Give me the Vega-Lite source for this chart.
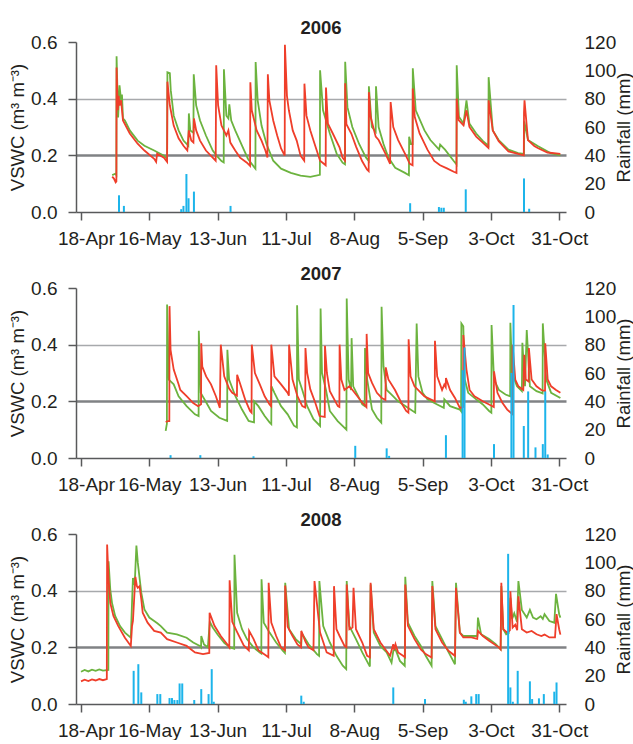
{
"$schema": "https://vega.github.io/schema/vega-lite/v6.json",
"padding": {"left": 8, "top": 18, "right": 0, "bottom": 0},
"spacing": 16,
"config": {
 "font": "Liberation Sans",
 "view": {"stroke": null},
 "axis": {"labelFontSize": 19, "labelColor": "#231f20", "titleFontSize": 18.5, "titleFontWeight": "normal", "titleColor": "#231f20", "domainColor": "#58595b", "domainWidth": 1.5, "tickColor": "#58595b", "tickWidth": 1.5, "grid": false},
 "title": {"fontSize": 18.5, "fontWeight": "bold", "color": "#231f20", "offset": -4, "anchor": "middle"}
},
"datasets": {
"g06": [
{"d":"2006-04-30T19:00","v":0.13},{"d":"2006-05-02T00:00","v":0.135},{"d":"2006-05-02T12:00","v":0.13},{"d":"2006-05-02T14:00","v":0.55},{"d":"2006-05-03T05:00","v":0.334},{"d":"2006-05-03T19:00","v":0.447},{"d":"2006-05-04T10:00","v":0.394},{"d":"2006-05-04T19:00","v":0.415},{"d":"2006-05-05T05:00","v":0.33},{"d":"2006-05-06T00:00","v":0.323},{"d":"2006-05-08T00:00","v":0.288},{"d":"2006-05-11T05:00","v":0.252},{"d":"2006-05-14T00:00","v":0.234},{"d":"2006-05-18T00:00","v":0.217},{"d":"2006-05-22T00:00","v":0.199},{"d":"2006-05-23T07:00","v":0.188},{"d":"2006-05-23T10:00","v":0.493},{"d":"2006-05-24T10:00","v":0.49},{"d":"2006-05-24T19:00","v":0.43},{"d":"2006-05-26T00:00","v":0.34},{"d":"2006-05-28T00:00","v":0.288},{"d":"2006-05-30T00:00","v":0.252},{"d":"2006-06-01T00:00","v":0.234},{"d":"2006-06-01T05:00","v":0.348},{"d":"2006-06-01T19:00","v":0.288},{"d":"2006-06-03T02:00","v":0.28},{"d":"2006-06-03T05:00","v":0.486},{"d":"2006-06-04T05:00","v":0.376},{"d":"2006-06-05T19:00","v":0.323},{"d":"2006-06-08T05:00","v":0.27},{"d":"2006-06-11T00:00","v":0.217},{"d":"2006-06-12T14:00","v":0.199},{"d":"2006-06-14T14:00","v":0.18},{"d":"2006-06-15T12:00","v":0.175},{"d":"2006-06-15T14:00","v":0.504},{"d":"2006-06-16T14:00","v":0.34},{"d":"2006-06-17T10:00","v":0.33},{"d":"2006-06-17T19:00","v":0.38},{"d":"2006-06-18T14:00","v":0.323},{"d":"2006-06-20T05:00","v":0.288},{"d":"2006-06-23T00:00","v":0.234},{"d":"2006-06-25T10:00","v":0.188},{"d":"2006-06-28T12:00","v":0.153},{"d":"2006-06-28T14:00","v":0.529},{"d":"2006-06-29T10:00","v":0.394},{"d":"2006-07-01T00:00","v":0.305},{"d":"2006-07-03T00:00","v":0.241},{"d":"2006-07-05T19:00","v":0.181},{"d":"2006-07-09T00:00","v":0.153},{"d":"2006-07-13T00:00","v":0.138},{"d":"2006-07-17T00:00","v":0.128},{"d":"2006-07-21T00:00","v":0.124},{"d":"2006-07-24T22:00","v":0.131},{"d":"2006-07-25T00:00","v":0.5},{"d":"2006-07-26T05:00","v":0.359},{"d":"2006-07-29T00:00","v":0.277},{"d":"2006-07-31T19:00","v":0.206},{"d":"2006-08-03T05:00","v":0.174},{"d":"2006-08-04T05:00","v":0.168},{"d":"2006-08-04T07:00","v":0.53},{"d":"2006-08-05T05:00","v":0.37},{"d":"2006-08-07T05:00","v":0.3},{"d":"2006-08-10T00:00","v":0.24},{"d":"2006-08-12T19:00","v":0.192},{"d":"2006-08-13T22:00","v":0.18},{"d":"2006-08-14T00:00","v":0.444},{"d":"2006-08-15T05:00","v":0.3},{"d":"2006-08-16T19:00","v":0.283},{"d":"2006-08-16T22:00","v":0.444},{"d":"2006-08-18T00:00","v":0.3},{"d":"2006-08-20T00:00","v":0.24},{"d":"2006-08-22T00:00","v":0.192},{"d":"2006-08-24T19:00","v":0.156},{"d":"2006-08-28T19:00","v":0.138},{"d":"2006-08-30T10:00","v":0.13},{"d":"2006-08-30T12:00","v":0.266},{"d":"2006-08-31T05:00","v":0.24},{"d":"2006-08-31T22:00","v":0.24},{"d":"2006-09-01T00:00","v":0.507},{"d":"2006-09-02T05:00","v":0.359},{"d":"2006-09-05T19:00","v":0.288},{"d":"2006-09-08T05:00","v":0.254},{"d":"2006-09-11T19:00","v":0.22},{"d":"2006-09-12T05:00","v":0.238},{"d":"2006-09-14T05:00","v":0.22},{"d":"2006-09-17T19:00","v":0.18},{"d":"2006-09-18T22:00","v":0.168},{"d":"2006-09-19T00:00","v":0.518},{"d":"2006-09-19T22:00","v":0.336},{"d":"2006-09-21T19:00","v":0.312},{"d":"2006-09-23T00:00","v":0.394},{"d":"2006-09-24T05:00","v":0.312},{"d":"2006-09-27T00:00","v":0.277},{"d":"2006-09-29T19:00","v":0.25},{"d":"2006-10-02T00:00","v":0.234},{"d":"2006-10-02T02:00","v":0.476},{"d":"2006-10-03T19:00","v":0.288},{"d":"2006-10-06T05:00","v":0.254},{"d":"2006-10-10T05:00","v":0.22},{"d":"2006-10-14T05:00","v":0.208},{"d":"2006-10-16T14:00","v":0.205},{"d":"2006-10-16T17:00","v":0.32},{"d":"2006-10-18T05:00","v":0.254},{"d":"2006-10-22T05:00","v":0.233},{"d":"2006-10-27T10:00","v":0.208},{"d":"2006-10-31T12:00","v":0.2}
],
"r06": [
{"d":"2006-04-30T19:00","v":0.125},{"d":"2006-05-01T12:00","v":0.118},{"d":"2006-05-02T05:00","v":0.105},{"d":"2006-05-02T12:00","v":0.108},{"d":"2006-05-02T14:00","v":0.51},{"d":"2006-05-03T02:00","v":0.359},{"d":"2006-05-03T10:00","v":0.41},{"d":"2006-05-03T19:00","v":0.376},{"d":"2006-05-04T10:00","v":0.394},{"d":"2006-05-05T05:00","v":0.323},{"d":"2006-05-08T00:00","v":0.277},{"d":"2006-05-11T05:00","v":0.241},{"d":"2006-05-14T00:00","v":0.217},{"d":"2006-05-18T00:00","v":0.188},{"d":"2006-05-18T19:00","v":0.177},{"d":"2006-05-19T05:00","v":0.206},{"d":"2006-05-22T00:00","v":0.192},{"d":"2006-05-23T07:00","v":0.177},{"d":"2006-05-23T10:00","v":0.46},{"d":"2006-05-24T10:00","v":0.376},{"d":"2006-05-26T00:00","v":0.305},{"d":"2006-05-28T00:00","v":0.26},{"d":"2006-05-30T00:00","v":0.234},{"d":"2006-05-31T14:00","v":0.217},{"d":"2006-06-01T05:00","v":0.288},{"d":"2006-06-02T05:00","v":0.252},{"d":"2006-06-03T02:00","v":0.245},{"d":"2006-06-03T07:00","v":0.33},{"d":"2006-06-04T05:00","v":0.288},{"d":"2006-06-05T19:00","v":0.252},{"d":"2006-06-08T05:00","v":0.217},{"d":"2006-06-11T00:00","v":0.192},{"d":"2006-06-12T05:00","v":0.181},{"d":"2006-06-12T10:00","v":0.518},{"d":"2006-06-13T05:00","v":0.376},{"d":"2006-06-14T14:00","v":0.305},{"d":"2006-06-16T14:00","v":0.27},{"d":"2006-06-17T10:00","v":0.288},{"d":"2006-06-18T05:00","v":0.245},{"d":"2006-06-20T05:00","v":0.217},{"d":"2006-06-22T05:00","v":0.192},{"d":"2006-06-25T00:00","v":0.174},{"d":"2006-06-26T07:00","v":0.163},{"d":"2006-06-26T10:00","v":0.458},{"d":"2006-06-27T00:00","v":0.359},{"d":"2006-06-29T00:00","v":0.288},{"d":"2006-07-01T00:00","v":0.252},{"d":"2006-07-02T14:00","v":0.217},{"d":"2006-07-03T10:00","v":0.192},{"d":"2006-07-03T14:00","v":0.486},{"d":"2006-07-04T05:00","v":0.394},{"d":"2006-07-05T19:00","v":0.323},{"d":"2006-07-07T10:00","v":0.27},{"d":"2006-07-09T00:00","v":0.224},{"d":"2006-07-10T12:00","v":0.199},{"d":"2006-07-10T14:00","v":0.59},{"d":"2006-07-11T10:00","v":0.41},{"d":"2006-07-12T05:00","v":0.359},{"d":"2006-07-13T19:00","v":0.288},{"d":"2006-07-15T10:00","v":0.252},{"d":"2006-07-17T00:00","v":0.199},{"d":"2006-07-18T12:00","v":0.181},{"d":"2006-07-18T14:00","v":0.453},{"d":"2006-07-19T10:00","v":0.34},{"d":"2006-07-21T00:00","v":0.288},{"d":"2006-07-23T00:00","v":0.234},{"d":"2006-07-25T00:00","v":0.181},{"d":"2006-07-27T07:00","v":0.165},{"d":"2006-07-27T10:00","v":0.439},{"d":"2006-07-28T05:00","v":0.312},{"d":"2006-07-30T05:00","v":0.277},{"d":"2006-08-02T00:00","v":0.227},{"d":"2006-08-03T05:00","v":0.192},{"d":"2006-08-04T05:00","v":0.181},{"d":"2006-08-04T07:00","v":0.454},{"d":"2006-08-04T19:00","v":0.31},{"d":"2006-08-06T19:00","v":0.277},{"d":"2006-08-08T19:00","v":0.23},{"d":"2006-08-11T05:00","v":0.18},{"d":"2006-08-13T05:00","v":0.15},{"d":"2006-08-13T22:00","v":0.144},{"d":"2006-08-14T00:00","v":0.423},{"d":"2006-08-14T17:00","v":0.336},{"d":"2006-08-16T19:00","v":0.266},{"d":"2006-08-18T00:00","v":0.254},{"d":"2006-08-20T19:00","v":0.206},{"d":"2006-08-22T17:00","v":0.17},{"d":"2006-08-22T22:00","v":0.388},{"d":"2006-08-24T00:00","v":0.3},{"d":"2006-08-26T00:00","v":0.254},{"d":"2006-08-28T19:00","v":0.206},{"d":"2006-08-30T19:00","v":0.17},{"d":"2006-08-31T22:00","v":0.165},{"d":"2006-09-01T00:00","v":0.436},{"d":"2006-09-01T19:00","v":0.336},{"d":"2006-09-03T19:00","v":0.277},{"d":"2006-09-07T00:00","v":0.22},{"d":"2006-09-09T19:00","v":0.18},{"d":"2006-09-12T05:00","v":0.165},{"d":"2006-09-15T00:00","v":0.154},{"d":"2006-09-17T19:00","v":0.142},{"d":"2006-09-18T22:00","v":0.138},{"d":"2006-09-19T00:00","v":0.4},{"d":"2006-09-19T19:00","v":0.324},{"d":"2006-09-21T19:00","v":0.306},{"d":"2006-09-23T00:00","v":0.359},{"d":"2006-09-24T05:00","v":0.3},{"d":"2006-09-27T00:00","v":0.266},{"d":"2006-09-29T19:00","v":0.244},{"d":"2006-10-02T00:00","v":0.226},{"d":"2006-10-02T02:00","v":0.394},{"d":"2006-10-03T19:00","v":0.288},{"d":"2006-10-06T05:00","v":0.25},{"d":"2006-10-10T05:00","v":0.214},{"d":"2006-10-14T05:00","v":0.205},{"d":"2006-10-16T12:00","v":0.2},{"d":"2006-10-16T14:00","v":0.35},{"d":"2006-10-16T19:00","v":0.394},{"d":"2006-10-18T05:00","v":0.254},{"d":"2006-10-20T19:00","v":0.233},{"d":"2006-10-22T05:00","v":0.226},{"d":"2006-10-26T05:00","v":0.21},{"d":"2006-10-31T12:00","v":0.205}
],
"p06": [
{"d":"2006-05-03T14:00","mm":11.8},{"d":"2006-05-05T14:00","mm":4.3},{"d":"2006-05-29T02:00","mm":2},{"d":"2006-05-30T00:00","mm":4.3},{"d":"2006-05-31T05:00","mm":26.8},{"d":"2006-06-01T02:00","mm":9.7},{"d":"2006-06-03T07:00","mm":14.4},{"d":"2006-06-18T07:00","mm":4.3},{"d":"2006-08-30T22:00","mm":6.2},{"d":"2006-09-11T17:00","mm":3.5},{"d":"2006-09-12T17:00","mm":3},{"d":"2006-09-13T17:00","mm":3},{"d":"2006-09-22T17:00","mm":16},{"d":"2006-10-16T14:00","mm":23.7},{"d":"2006-10-18T17:00","mm":2.3}
],
"g07": [
{"d":"2007-05-22T17:00","v":0.096},{"d":"2007-05-23T02:00","v":0.115},{"d":"2007-05-23T05:00","v":0.12},{"d":"2007-05-23T07:00","v":0.542},{"d":"2007-05-24T00:00","v":0.277},{"d":"2007-05-26T00:00","v":0.26},{"d":"2007-05-28T00:00","v":0.218},{"d":"2007-05-31T07:00","v":0.183},{"d":"2007-06-03T17:00","v":0.154},{"d":"2007-06-05T05:00","v":0.148},{"d":"2007-06-05T07:00","v":0.449},{"d":"2007-06-06T02:00","v":0.23},{"d":"2007-06-08T07:00","v":0.197},{"d":"2007-06-10T07:00","v":0.166},{"d":"2007-06-13T17:00","v":0.142},{"d":"2007-06-16T22:00","v":0.131},{"d":"2007-06-17T00:00","v":0.382},{"d":"2007-06-17T17:00","v":0.277},{"d":"2007-06-20T07:00","v":0.218},{"d":"2007-06-23T00:00","v":0.171},{"d":"2007-06-25T17:00","v":0.131},{"d":"2007-06-27T22:00","v":0.126},{"d":"2007-06-28T00:00","v":0.2},{"d":"2007-06-29T17:00","v":0.183},{"d":"2007-07-02T07:00","v":0.148},{"d":"2007-07-04T07:00","v":0.126},{"d":"2007-07-05T00:00","v":0.12},{"d":"2007-07-05T02:00","v":0.253},{"d":"2007-07-06T07:00","v":0.23},{"d":"2007-07-09T00:00","v":0.183},{"d":"2007-07-11T17:00","v":0.154},{"d":"2007-07-14T07:00","v":0.114},{"d":"2007-07-15T12:00","v":0.108},{"d":"2007-07-15T14:00","v":0.539},{"d":"2007-07-16T07:00","v":0.277},{"d":"2007-07-17T17:00","v":0.24},{"d":"2007-07-19T17:00","v":0.183},{"d":"2007-07-22T07:00","v":0.137},{"d":"2007-07-25T00:00","v":0.113},{"d":"2007-07-25T05:00","v":0.528},{"d":"2007-07-25T19:00","v":0.3},{"d":"2007-07-27T10:00","v":0.24},{"d":"2007-07-29T00:00","v":0.166},{"d":"2007-08-01T05:00","v":0.13},{"d":"2007-08-04T19:00","v":0.1},{"d":"2007-08-04T22:00","v":0.563},{"d":"2007-08-05T17:00","v":0.277},{"d":"2007-08-06T17:00","v":0.24},{"d":"2007-08-06T22:00","v":0.423},{"d":"2007-08-07T14:00","v":0.253},{"d":"2007-08-09T07:00","v":0.224},{"d":"2007-08-11T07:00","v":0.189},{"d":"2007-08-12T07:00","v":0.183},{"d":"2007-08-12T10:00","v":0.388},{"d":"2007-08-13T07:00","v":0.277},{"d":"2007-08-15T07:00","v":0.171},{"d":"2007-08-17T07:00","v":0.142},{"d":"2007-08-19T02:00","v":0.125},{"d":"2007-08-19T05:00","v":0.534},{"d":"2007-08-20T00:00","v":0.323},{"d":"2007-08-21T07:00","v":0.24},{"d":"2007-08-23T07:00","v":0.224},{"d":"2007-08-26T00:00","v":0.2},{"d":"2007-08-30T00:00","v":0.177},{"d":"2007-09-02T00:00","v":0.16},{"d":"2007-09-02T14:00","v":0.475},{"d":"2007-09-03T07:00","v":0.288},{"d":"2007-09-05T00:00","v":0.23},{"d":"2007-09-07T00:00","v":0.207},{"d":"2007-09-11T00:00","v":0.189},{"d":"2007-09-13T17:00","v":0.177},{"d":"2007-09-13T22:00","v":0.207},{"d":"2007-09-16T07:00","v":0.183},{"d":"2007-09-20T07:00","v":0.171},{"d":"2007-09-20T19:00","v":0.165},{"d":"2007-09-20T22:00","v":0.475},{"d":"2007-09-21T17:00","v":0.465},{"d":"2007-09-22T07:00","v":0.277},{"d":"2007-09-23T17:00","v":0.23},{"d":"2007-09-27T00:00","v":0.207},{"d":"2007-09-29T17:00","v":0.189},{"d":"2007-10-02T07:00","v":0.166},{"d":"2007-10-03T05:00","v":0.16},{"d":"2007-10-03T07:00","v":0.469},{"d":"2007-10-04T07:00","v":0.277},{"d":"2007-10-06T07:00","v":0.24},{"d":"2007-10-09T00:00","v":0.224},{"d":"2007-10-10T22:00","v":0.218},{"d":"2007-10-11T00:00","v":0.477},{"d":"2007-10-11T17:00","v":0.3},{"d":"2007-10-13T17:00","v":0.253},{"d":"2007-10-15T17:00","v":0.236},{"d":"2007-10-15T22:00","v":0.407},{"d":"2007-10-17T00:00","v":0.253},{"d":"2007-10-17T17:00","v":0.452},{"d":"2007-10-19T00:00","v":0.253},{"d":"2007-10-21T17:00","v":0.236},{"d":"2007-10-23T17:00","v":0.23},{"d":"2007-10-24T05:00","v":0.228},{"d":"2007-10-24T07:00","v":0.475},{"d":"2007-10-25T17:00","v":0.277},{"d":"2007-10-27T17:00","v":0.23},{"d":"2007-10-31T12:00","v":0.212}
],
"r07": [
{"d":"2007-05-22T17:00","v":0.127},{"d":"2007-05-23T14:00","v":0.13},{"d":"2007-05-24T05:00","v":0.13},{"d":"2007-05-24T07:00","v":0.536},{"d":"2007-05-24T17:00","v":0.382},{"d":"2007-05-26T00:00","v":0.312},{"d":"2007-05-28T00:00","v":0.26},{"d":"2007-05-28T17:00","v":0.24},{"d":"2007-05-31T07:00","v":0.218},{"d":"2007-06-03T00:00","v":0.194},{"d":"2007-06-05T00:00","v":0.183},{"d":"2007-06-06T05:00","v":0.19},{"d":"2007-06-06T07:00","v":0.405},{"d":"2007-06-06T17:00","v":0.323},{"d":"2007-06-08T07:00","v":0.288},{"d":"2007-06-10T07:00","v":0.26},{"d":"2007-06-12T07:00","v":0.218},{"d":"2007-06-13T22:00","v":0.177},{"d":"2007-06-14T07:00","v":0.4},{"d":"2007-06-15T17:00","v":0.288},{"d":"2007-06-17T17:00","v":0.245},{"d":"2007-06-19T00:00","v":0.23},{"d":"2007-06-20T22:00","v":0.22},{"d":"2007-06-21T00:00","v":0.294},{"d":"2007-06-22T07:00","v":0.26},{"d":"2007-06-24T07:00","v":0.206},{"d":"2007-06-26T07:00","v":0.166},{"d":"2007-06-26T22:00","v":0.16},{"d":"2007-06-27T00:00","v":0.4},{"d":"2007-06-28T07:00","v":0.3},{"d":"2007-06-30T07:00","v":0.26},{"d":"2007-07-02T07:00","v":0.218},{"d":"2007-07-04T07:00","v":0.189},{"d":"2007-07-04T22:00","v":0.183},{"d":"2007-07-05T00:00","v":0.4},{"d":"2007-07-06T07:00","v":0.288},{"d":"2007-07-09T00:00","v":0.26},{"d":"2007-07-11T17:00","v":0.23},{"d":"2007-07-12T05:00","v":0.22},{"d":"2007-07-12T07:00","v":0.4},{"d":"2007-07-13T17:00","v":0.277},{"d":"2007-07-15T17:00","v":0.218},{"d":"2007-07-17T17:00","v":0.183},{"d":"2007-07-18T22:00","v":0.178},{"d":"2007-07-19T00:00","v":0.388},{"d":"2007-07-19T17:00","v":0.3},{"d":"2007-07-21T00:00","v":0.242},{"d":"2007-07-23T00:00","v":0.196},{"d":"2007-07-24T19:00","v":0.148},{"d":"2007-07-26T22:00","v":0.145},{"d":"2007-07-27T00:00","v":0.396},{"d":"2007-07-27T19:00","v":0.3},{"d":"2007-07-29T00:00","v":0.236},{"d":"2007-08-01T07:00","v":0.183},{"d":"2007-08-01T22:00","v":0.18},{"d":"2007-08-02T00:00","v":0.4},{"d":"2007-08-02T17:00","v":0.277},{"d":"2007-08-04T00:00","v":0.24},{"d":"2007-08-06T00:00","v":0.253},{"d":"2007-08-07T07:00","v":0.24},{"d":"2007-08-09T07:00","v":0.218},{"d":"2007-08-11T07:00","v":0.195},{"d":"2007-08-12T17:00","v":0.183},{"d":"2007-08-13T00:00","v":0.18},{"d":"2007-08-13T02:00","v":0.438},{"d":"2007-08-13T17:00","v":0.3},{"d":"2007-08-15T07:00","v":0.265},{"d":"2007-08-17T07:00","v":0.23},{"d":"2007-08-19T07:00","v":0.212},{"d":"2007-08-20T19:00","v":0.205},{"d":"2007-08-20T22:00","v":0.32},{"d":"2007-08-22T00:00","v":0.277},{"d":"2007-08-24T17:00","v":0.24},{"d":"2007-08-27T07:00","v":0.195},{"d":"2007-08-29T07:00","v":0.166},{"d":"2007-08-30T05:00","v":0.16},{"d":"2007-08-30T07:00","v":0.419},{"d":"2007-08-31T02:00","v":0.288},{"d":"2007-09-01T17:00","v":0.253},{"d":"2007-09-05T17:00","v":0.218},{"d":"2007-09-08T07:00","v":0.207},{"d":"2007-09-10T00:00","v":0.2},{"d":"2007-09-10T02:00","v":0.414},{"d":"2007-09-11T00:00","v":0.288},{"d":"2007-09-13T00:00","v":0.24},{"d":"2007-09-13T22:00","v":0.259},{"d":"2007-09-14T12:00","v":0.25},{"d":"2007-09-14T14:00","v":0.282},{"d":"2007-09-16T07:00","v":0.24},{"d":"2007-09-18T07:00","v":0.212},{"d":"2007-09-20T07:00","v":0.177},{"d":"2007-09-21T14:00","v":0.18},{"d":"2007-09-21T17:00","v":0.434},{"d":"2007-09-23T00:00","v":0.312},{"d":"2007-09-24T07:00","v":0.24},{"d":"2007-09-26T07:00","v":0.218},{"d":"2007-09-29T17:00","v":0.2},{"d":"2007-10-02T07:00","v":0.189},{"d":"2007-10-04T05:00","v":0.18},{"d":"2007-10-04T07:00","v":0.306},{"d":"2007-10-05T17:00","v":0.23},{"d":"2007-10-07T17:00","v":0.195},{"d":"2007-10-09T17:00","v":0.171},{"d":"2007-10-11T19:00","v":0.155},{"d":"2007-10-11T22:00","v":0.4},{"d":"2007-10-13T00:00","v":0.277},{"d":"2007-10-14T07:00","v":0.253},{"d":"2007-10-16T07:00","v":0.24},{"d":"2007-10-16T17:00","v":0.364},{"d":"2007-10-17T07:00","v":0.277},{"d":"2007-10-18T12:00","v":0.27},{"d":"2007-10-18T14:00","v":0.388},{"d":"2007-10-19T17:00","v":0.277},{"d":"2007-10-21T17:00","v":0.253},{"d":"2007-10-23T17:00","v":0.24},{"d":"2007-10-25T05:00","v":0.236},{"d":"2007-10-25T07:00","v":0.405},{"d":"2007-10-26T07:00","v":0.277},{"d":"2007-10-27T17:00","v":0.253},{"d":"2007-10-29T17:00","v":0.24},{"d":"2007-10-31T12:00","v":0.23}
],
"p07": [
{"d":"2007-05-24T17:00","mm":2},{"d":"2007-06-05T22:00","mm":2},{"d":"2007-06-27T17:00","mm":1.2},{"d":"2007-08-08T10:00","mm":8.6},{"d":"2007-08-21T07:00","mm":6.8},{"d":"2007-08-22T07:00","mm":1.5},{"d":"2007-09-14T14:00","mm":16.1},{"d":"2007-09-21T10:00","mm":62},{"d":"2007-09-22T05:00","mm":78},{"d":"2007-10-04T07:00","mm":9.8},{"d":"2007-10-11T10:00","mm":60},{"d":"2007-10-12T07:00","mm":108},{"d":"2007-10-16T12:00","mm":22.6},{"d":"2007-10-18T07:00","mm":47},{"d":"2007-10-21T07:00","mm":7.5},{"d":"2007-10-24T07:00","mm":9.8},{"d":"2007-10-25T07:00","mm":47},{"d":"2007-10-26T07:00","mm":2.5}
],
"g08": [
{"d":"2008-04-18T00:00","v":0.114},{"d":"2008-04-19T12:00","v":0.12},{"d":"2008-04-21T00:00","v":0.115},{"d":"2008-04-22T12:00","v":0.121},{"d":"2008-04-24T00:00","v":0.117},{"d":"2008-04-25T12:00","v":0.122},{"d":"2008-04-27T00:00","v":0.118},{"d":"2008-04-29T05:00","v":0.12},{"d":"2008-04-29T07:00","v":0.504},{"d":"2008-04-30T00:00","v":0.404},{"d":"2008-04-30T17:00","v":0.357},{"d":"2008-05-02T00:00","v":0.311},{"d":"2008-05-04T00:00","v":0.275},{"d":"2008-05-06T00:00","v":0.252},{"d":"2008-05-08T10:00","v":0.234},{"d":"2008-05-08T22:00","v":0.357},{"d":"2008-05-09T07:00","v":0.445},{"d":"2008-05-10T00:00","v":0.42},{"d":"2008-05-10T17:00","v":0.559},{"d":"2008-05-11T07:00","v":0.498},{"d":"2008-05-12T17:00","v":0.393},{"d":"2008-05-14T00:00","v":0.334},{"d":"2008-05-16T00:00","v":0.305},{"d":"2008-05-18T00:00","v":0.293},{"d":"2008-05-19T07:00","v":0.285},{"d":"2008-05-20T17:00","v":0.275},{"d":"2008-05-23T07:00","v":0.252},{"d":"2008-05-27T07:00","v":0.246},{"d":"2008-05-31T07:00","v":0.234},{"d":"2008-06-03T00:00","v":0.217},{"d":"2008-06-05T17:00","v":0.205},{"d":"2008-06-06T05:00","v":0.2},{"d":"2008-06-06T07:00","v":0.24},{"d":"2008-06-07T10:00","v":0.21},{"d":"2008-06-09T00:00","v":0.2},{"d":"2008-06-09T19:00","v":0.29},{"d":"2008-06-11T00:00","v":0.27},{"d":"2008-06-13T00:00","v":0.245},{"d":"2008-06-15T19:00","v":0.215},{"d":"2008-06-18T05:00","v":0.2},{"d":"2008-06-19T19:00","v":0.195},{"d":"2008-06-19T22:00","v":0.527},{"d":"2008-06-21T00:00","v":0.322},{"d":"2008-06-23T00:00","v":0.264},{"d":"2008-06-25T00:00","v":0.229},{"d":"2008-06-27T17:00","v":0.2},{"d":"2008-06-30T07:00","v":0.182},{"d":"2008-06-30T22:00","v":0.178},{"d":"2008-07-01T00:00","v":0.44},{"d":"2008-07-01T22:00","v":0.287},{"d":"2008-07-04T07:00","v":0.252},{"d":"2008-07-07T00:00","v":0.217},{"d":"2008-07-09T17:00","v":0.188},{"d":"2008-07-10T14:00","v":0.18},{"d":"2008-07-10T17:00","v":0.428},{"d":"2008-07-12T07:00","v":0.264},{"d":"2008-07-15T00:00","v":0.229},{"d":"2008-07-17T07:00","v":0.211},{"d":"2008-07-17T12:00","v":0.25},{"d":"2008-07-20T07:00","v":0.211},{"d":"2008-07-23T17:00","v":0.176},{"d":"2008-07-24T14:00","v":0.17},{"d":"2008-07-24T17:00","v":0.434},{"d":"2008-07-26T07:00","v":0.275},{"d":"2008-07-29T00:00","v":0.217},{"d":"2008-07-31T17:00","v":0.17},{"d":"2008-08-03T07:00","v":0.135},{"d":"2008-08-04T17:00","v":0.123},{"d":"2008-08-04T22:00","v":0.434},{"d":"2008-08-06T00:00","v":0.275},{"d":"2008-08-08T17:00","v":0.229},{"d":"2008-08-11T07:00","v":0.182},{"d":"2008-08-14T10:00","v":0.132},{"d":"2008-08-14T17:00","v":0.422},{"d":"2008-08-16T00:00","v":0.252},{"d":"2008-08-18T17:00","v":0.205},{"d":"2008-08-21T07:00","v":0.182},{"d":"2008-08-23T07:00","v":0.146},{"d":"2008-08-24T00:00","v":0.187},{"d":"2008-08-24T22:00","v":0.193},{"d":"2008-08-26T17:00","v":0.152},{"d":"2008-08-28T17:00","v":0.135},{"d":"2008-08-28T22:00","v":0.449},{"d":"2008-08-30T00:00","v":0.287},{"d":"2008-09-01T17:00","v":0.24},{"d":"2008-09-04T07:00","v":0.205},{"d":"2008-09-06T07:00","v":0.17},{"d":"2008-09-08T17:00","v":0.135},{"d":"2008-09-09T00:00","v":0.434},{"d":"2008-09-10T07:00","v":0.275},{"d":"2008-09-13T00:00","v":0.229},{"d":"2008-09-15T17:00","v":0.182},{"d":"2008-09-18T07:00","v":0.14},{"d":"2008-09-18T17:00","v":0.428},{"d":"2008-09-20T07:00","v":0.252},{"d":"2008-09-21T17:00","v":0.24},{"d":"2008-09-25T00:00","v":0.24},{"d":"2008-09-27T10:00","v":0.24},{"d":"2008-09-27T17:00","v":0.305},{"d":"2008-09-29T00:00","v":0.246},{"d":"2008-10-02T07:00","v":0.229},{"d":"2008-10-05T00:00","v":0.211},{"d":"2008-10-07T00:00","v":0.193},{"d":"2008-10-07T07:00","v":0.416},{"d":"2008-10-08T02:00","v":0.264},{"d":"2008-10-09T07:00","v":0.246},{"d":"2008-10-10T07:00","v":0.25},{"d":"2008-10-11T00:00","v":0.375},{"d":"2008-10-11T17:00","v":0.3},{"d":"2008-10-12T14:00","v":0.32},{"d":"2008-10-13T17:00","v":0.29},{"d":"2008-10-14T07:00","v":0.434},{"d":"2008-10-15T17:00","v":0.332},{"d":"2008-10-17T17:00","v":0.305},{"d":"2008-10-19T00:00","v":0.332},{"d":"2008-10-20T07:00","v":0.305},{"d":"2008-10-21T17:00","v":0.299},{"d":"2008-10-23T10:00","v":0.31},{"d":"2008-10-24T07:00","v":0.3},{"d":"2008-10-25T00:00","v":0.317},{"d":"2008-10-27T00:00","v":0.293},{"d":"2008-10-29T00:00","v":0.287},{"d":"2008-10-29T17:00","v":0.389},{"d":"2008-10-31T00:00","v":0.317},{"d":"2008-10-31T12:00","v":0.305}
],
"r08": [
{"d":"2008-04-18T00:00","v":0.08},{"d":"2008-04-19T12:00","v":0.086},{"d":"2008-04-21T00:00","v":0.081},{"d":"2008-04-22T12:00","v":0.087},{"d":"2008-04-24T00:00","v":0.083},{"d":"2008-04-25T12:00","v":0.088},{"d":"2008-04-27T00:00","v":0.084},{"d":"2008-04-28T14:00","v":0.088},{"d":"2008-04-28T17:00","v":0.563},{"d":"2008-04-29T07:00","v":0.44},{"d":"2008-04-30T00:00","v":0.357},{"d":"2008-05-01T07:00","v":0.311},{"d":"2008-05-03T07:00","v":0.275},{"d":"2008-05-06T00:00","v":0.234},{"d":"2008-05-08T10:00","v":0.205},{"d":"2008-05-08T22:00","v":0.275},{"d":"2008-05-09T07:00","v":0.293},{"d":"2008-05-10T07:00","v":0.449},{"d":"2008-05-10T22:00","v":0.416},{"d":"2008-05-11T07:00","v":0.41},{"d":"2008-05-12T00:00","v":0.416},{"d":"2008-05-12T17:00","v":0.37},{"d":"2008-05-13T07:00","v":0.322},{"d":"2008-05-15T07:00","v":0.287},{"d":"2008-05-18T00:00","v":0.258},{"d":"2008-05-20T17:00","v":0.252},{"d":"2008-05-23T07:00","v":0.229},{"d":"2008-05-27T07:00","v":0.217},{"d":"2008-05-31T07:00","v":0.205},{"d":"2008-06-03T17:00","v":0.182},{"d":"2008-06-07T00:00","v":0.176},{"d":"2008-06-09T14:00","v":0.18},{"d":"2008-06-09T17:00","v":0.322},{"d":"2008-06-11T17:00","v":0.276},{"d":"2008-06-14T07:00","v":0.24},{"d":"2008-06-17T00:00","v":0.21},{"d":"2008-06-17T19:00","v":0.2},{"d":"2008-06-17T22:00","v":0.437},{"d":"2008-06-19T00:00","v":0.29},{"d":"2008-06-21T00:00","v":0.254},{"d":"2008-06-23T17:00","v":0.207},{"d":"2008-06-25T19:00","v":0.189},{"d":"2008-06-25T22:00","v":0.258},{"d":"2008-06-27T17:00","v":0.23},{"d":"2008-06-29T17:00","v":0.19},{"d":"2008-07-03T00:00","v":0.17},{"d":"2008-07-03T19:00","v":0.165},{"d":"2008-07-03T22:00","v":0.428},{"d":"2008-07-05T00:00","v":0.287},{"d":"2008-07-07T00:00","v":0.24},{"d":"2008-07-09T00:00","v":0.2},{"d":"2008-07-10T14:00","v":0.19},{"d":"2008-07-10T17:00","v":0.418},{"d":"2008-07-11T17:00","v":0.273},{"d":"2008-07-13T17:00","v":0.24},{"d":"2008-07-15T17:00","v":0.21},{"d":"2008-07-17T05:00","v":0.2},{"d":"2008-07-17T07:00","v":0.258},{"d":"2008-07-19T00:00","v":0.22},{"d":"2008-07-20T07:00","v":0.2},{"d":"2008-07-22T07:00","v":0.19},{"d":"2008-07-22T17:00","v":0.434},{"d":"2008-07-25T00:00","v":0.252},{"d":"2008-07-27T17:00","v":0.182},{"d":"2008-07-30T14:00","v":0.17},{"d":"2008-07-30T17:00","v":0.416},{"d":"2008-07-31T17:00","v":0.264},{"d":"2008-08-02T00:00","v":0.24},{"d":"2008-08-04T00:00","v":0.205},{"d":"2008-08-04T19:00","v":0.2},{"d":"2008-08-04T22:00","v":0.422},{"d":"2008-08-06T00:00","v":0.264},{"d":"2008-08-07T07:00","v":0.27},{"d":"2008-08-07T17:00","v":0.41},{"d":"2008-08-08T17:00","v":0.264},{"d":"2008-08-11T07:00","v":0.217},{"d":"2008-08-13T07:00","v":0.17},{"d":"2008-08-14T10:00","v":0.165},{"d":"2008-08-14T17:00","v":0.428},{"d":"2008-08-16T00:00","v":0.264},{"d":"2008-08-18T17:00","v":0.217},{"d":"2008-08-20T17:00","v":0.193},{"d":"2008-08-22T17:00","v":0.17},{"d":"2008-08-24T00:00","v":0.211},{"d":"2008-08-24T10:00","v":0.19},{"d":"2008-08-24T22:00","v":0.211},{"d":"2008-08-26T00:00","v":0.182},{"d":"2008-08-28T00:00","v":0.17},{"d":"2008-08-28T19:00","v":0.165},{"d":"2008-08-28T22:00","v":0.422},{"d":"2008-08-30T00:00","v":0.276},{"d":"2008-09-01T17:00","v":0.229},{"d":"2008-09-04T07:00","v":0.193},{"d":"2008-09-06T07:00","v":0.176},{"d":"2008-09-08T17:00","v":0.164},{"d":"2008-09-09T00:00","v":0.416},{"d":"2008-09-10T07:00","v":0.264},{"d":"2008-09-13T00:00","v":0.217},{"d":"2008-09-15T17:00","v":0.187},{"d":"2008-09-18T07:00","v":0.17},{"d":"2008-09-18T17:00","v":0.41},{"d":"2008-09-20T07:00","v":0.252},{"d":"2008-09-21T17:00","v":0.235},{"d":"2008-09-25T00:00","v":0.235},{"d":"2008-09-27T10:00","v":0.23},{"d":"2008-09-27T17:00","v":0.258},{"d":"2008-09-29T17:00","v":0.24},{"d":"2008-10-02T07:00","v":0.223},{"d":"2008-10-06T07:00","v":0.2},{"d":"2008-10-07T00:00","v":0.193},{"d":"2008-10-07T07:00","v":0.428},{"d":"2008-10-08T02:00","v":0.264},{"d":"2008-10-09T17:00","v":0.252},{"d":"2008-10-10T19:00","v":0.26},{"d":"2008-10-11T00:00","v":0.398},{"d":"2008-10-11T22:00","v":0.27},{"d":"2008-10-13T00:00","v":0.28},{"d":"2008-10-13T19:00","v":0.26},{"d":"2008-10-14T07:00","v":0.38},{"d":"2008-10-15T17:00","v":0.264},{"d":"2008-10-17T17:00","v":0.252},{"d":"2008-10-19T17:00","v":0.258},{"d":"2008-10-21T17:00","v":0.246},{"d":"2008-10-23T17:00","v":0.24},{"d":"2008-10-25T00:00","v":0.245},{"d":"2008-10-27T00:00","v":0.235},{"d":"2008-10-29T07:00","v":0.235},{"d":"2008-10-29T22:00","v":0.317},{"d":"2008-10-31T00:00","v":0.264},{"d":"2008-10-31T12:00","v":0.245}
],
"p08": [
{"d":"2008-05-09T14:00","mm":23.4},{"d":"2008-05-11T12:00","mm":28.1},{"d":"2008-05-12T17:00","mm":8.2},{"d":"2008-05-19T07:00","mm":7},{"d":"2008-05-20T12:00","mm":7},{"d":"2008-05-24T07:00","mm":4.2},{"d":"2008-05-25T07:00","mm":4.2},{"d":"2008-05-26T07:00","mm":2.8},{"d":"2008-05-27T12:00","mm":2.8},{"d":"2008-05-28T10:00","mm":14.5},{"d":"2008-05-29T12:00","mm":14.5},{"d":"2008-06-03T10:00","mm":2.8},{"d":"2008-06-06T07:00","mm":10.5},{"d":"2008-06-09T07:00","mm":7},{"d":"2008-06-10T14:00","mm":24.6},{"d":"2008-06-11T10:00","mm":1.6},{"d":"2008-07-17T07:00","mm":5.9},{"d":"2008-07-18T07:00","mm":1.6},{"d":"2008-08-24T00:00","mm":11.7},{"d":"2008-09-06T00:00","mm":3.5},{"d":"2008-09-21T22:00","mm":3},{"d":"2008-09-22T17:00","mm":1.6},{"d":"2008-09-25T00:00","mm":5.4},{"d":"2008-09-27T00:00","mm":7},{"d":"2008-09-28T00:00","mm":7},{"d":"2008-10-10T02:00","mm":106},{"d":"2008-10-11T00:00","mm":11.7},{"d":"2008-10-12T00:00","mm":1.6},{"d":"2008-10-14T00:00","mm":23.4},{"d":"2008-10-19T00:00","mm":16},{"d":"2008-10-19T22:00","mm":3.5},{"d":"2008-10-22T17:00","mm":4},{"d":"2008-10-24T17:00","mm":7},{"d":"2008-10-29T00:00","mm":8.7},{"d":"2008-10-29T22:00","mm":15.2}
]
},
"vconcat": [
{
 "title": {"text": "2006"},
 "width": 490, "height": 170,
 "layer": [
  {"layer": [
   {"data": {"name": "g06"}, "mark": {"type": "line", "color": "#6cb33f", "strokeWidth": 1.8},
    "encoding": {
     "x": {"field": "d", "type": "temporal", "scale": {"domain": [{"year": 2006, "month": 4, "date": 18}, {"year": 2006, "month": 10, "date": 31, "hours": 18}]},
       "axis": {"title": null, "format": "%-d-%b", "tickSize": 8, "labelPadding": 9, "labelOffset": {"condition": {"test": "datum.index === 0", "value": 5}, "value": 0},
        "values": [{"year": 2006, "month": 4, "date": 18}, {"year": 2006, "month": 5, "date": 16}, {"year": 2006, "month": 6, "date": 13}, {"year": 2006, "month": 7, "date": 11}, {"year": 2006, "month": 8, "date": 8}, {"year": 2006, "month": 9, "date": 5}, {"year": 2006, "month": 10, "date": 3}, {"year": 2006, "month": 10, "date": 31}]}},
     "y": {"field": "v", "type": "quantitative", "scale": {"domain": [0, 0.6]},
       "axis": {"orient": "left", "values": [0, 0.2, 0.4, 0.6], "format": ".1f", "title": "VSWC (m³ m⁻³)", "tickSize": 8, "labelPadding": 11, "titlePadding": 3, "grid": true,
        "gridColor": {"condition": {"test": "datum.value === 0.2", "value": "#808285"}, "value": "#a7a9ac"},
        "gridWidth": {"condition": {"test": "datum.value === 0.2", "value": 2.5}, "value": 1.5},
        "gridOpacity": {"condition": {"test": "datum.value === 0 || datum.value === 0.6", "value": 0}, "value": 1}}}
    }},
   {"data": {"name": "r06"}, "mark": {"type": "line", "color": "#ef3e2a", "strokeWidth": 1.8},
    "encoding": {"x": {"field": "d", "type": "temporal"}, "y": {"field": "v", "type": "quantitative"}}}
  ]},
  {"data": {"name": "p06"}, "mark": {"type": "bar", "color": "#1cb4ea", "width": 2},
   "encoding": {"x": {"field": "d", "type": "temporal"},
    "y": {"field": "mm", "type": "quantitative", "scale": {"domain": [0, 120]},
     "axis": {"orient": "right", "values": [0, 20, 40, 60, 80, 100, 120], "ticks": false, "domain": false, "labelPadding": 18, "title": "Rainfall (mm)", "titleAngle": 270, "titlePadding": 18, "grid": false}}}}
 ],
 "resolve": {"scale": {"y": "independent"}}
},
{
 "title": {"text": "2007"},
 "width": 490, "height": 170,
 "layer": [
  {"layer": [
   {"data": {"name": "g07"}, "mark": {"type": "line", "color": "#6cb33f", "strokeWidth": 1.8},
    "encoding": {
     "x": {"field": "d", "type": "temporal", "scale": {"domain": [{"year": 2007, "month": 4, "date": 18}, {"year": 2007, "month": 10, "date": 31, "hours": 18}]},
       "axis": {"title": null, "format": "%-d-%b", "tickSize": 8, "labelPadding": 9, "labelOffset": {"condition": {"test": "datum.index === 0", "value": 5}, "value": 0},
        "values": [{"year": 2007, "month": 4, "date": 18}, {"year": 2007, "month": 5, "date": 16}, {"year": 2007, "month": 6, "date": 13}, {"year": 2007, "month": 7, "date": 11}, {"year": 2007, "month": 8, "date": 8}, {"year": 2007, "month": 9, "date": 5}, {"year": 2007, "month": 10, "date": 3}, {"year": 2007, "month": 10, "date": 31}]}},
     "y": {"field": "v", "type": "quantitative", "scale": {"domain": [0, 0.6]},
       "axis": {"orient": "left", "values": [0, 0.2, 0.4, 0.6], "format": ".1f", "title": "VSWC (m³ m⁻³)", "tickSize": 8, "labelPadding": 11, "titlePadding": 3, "grid": true,
        "gridColor": {"condition": {"test": "datum.value === 0.2", "value": "#808285"}, "value": "#a7a9ac"},
        "gridWidth": {"condition": {"test": "datum.value === 0.2", "value": 2.5}, "value": 1.5},
        "gridOpacity": {"condition": {"test": "datum.value === 0 || datum.value === 0.6", "value": 0}, "value": 1}}}
    }},
   {"data": {"name": "r07"}, "mark": {"type": "line", "color": "#ef3e2a", "strokeWidth": 1.8},
    "encoding": {"x": {"field": "d", "type": "temporal"}, "y": {"field": "v", "type": "quantitative"}}}
  ]},
  {"data": {"name": "p07"}, "mark": {"type": "bar", "color": "#1cb4ea", "width": 2},
   "encoding": {"x": {"field": "d", "type": "temporal"},
    "y": {"field": "mm", "type": "quantitative", "scale": {"domain": [0, 120]},
     "axis": {"orient": "right", "values": [0, 20, 40, 60, 80, 100, 120], "ticks": false, "domain": false, "labelPadding": 18, "title": "Rainfall (mm)", "titleAngle": 270, "titlePadding": 18, "grid": false}}}}
 ],
 "resolve": {"scale": {"y": "independent"}}
},
{
 "title": {"text": "2008"},
 "width": 490, "height": 170,
 "layer": [
  {"layer": [
   {"data": {"name": "g08"}, "mark": {"type": "line", "color": "#6cb33f", "strokeWidth": 1.8},
    "encoding": {
     "x": {"field": "d", "type": "temporal", "scale": {"domain": [{"year": 2008, "month": 4, "date": 18}, {"year": 2008, "month": 10, "date": 31, "hours": 18}]},
       "axis": {"title": null, "format": "%-d-%b", "tickSize": 8, "labelPadding": 9, "labelOffset": {"condition": {"test": "datum.index === 0", "value": 5}, "value": 0},
        "values": [{"year": 2008, "month": 4, "date": 18}, {"year": 2008, "month": 5, "date": 16}, {"year": 2008, "month": 6, "date": 13}, {"year": 2008, "month": 7, "date": 11}, {"year": 2008, "month": 8, "date": 8}, {"year": 2008, "month": 9, "date": 5}, {"year": 2008, "month": 10, "date": 3}, {"year": 2008, "month": 10, "date": 31}]}},
     "y": {"field": "v", "type": "quantitative", "scale": {"domain": [0, 0.6]},
       "axis": {"orient": "left", "values": [0, 0.2, 0.4, 0.6], "format": ".1f", "title": "VSWC (m³ m⁻³)", "tickSize": 8, "labelPadding": 11, "titlePadding": 3, "grid": true,
        "gridColor": {"condition": {"test": "datum.value === 0.2", "value": "#808285"}, "value": "#a7a9ac"},
        "gridWidth": {"condition": {"test": "datum.value === 0.2", "value": 2.5}, "value": 1.5},
        "gridOpacity": {"condition": {"test": "datum.value === 0 || datum.value === 0.6", "value": 0}, "value": 1}}}
    }},
   {"data": {"name": "r08"}, "mark": {"type": "line", "color": "#ef3e2a", "strokeWidth": 1.8},
    "encoding": {"x": {"field": "d", "type": "temporal"}, "y": {"field": "v", "type": "quantitative"}}}
  ]},
  {"data": {"name": "p08"}, "mark": {"type": "bar", "color": "#1cb4ea", "width": 2},
   "encoding": {"x": {"field": "d", "type": "temporal"},
    "y": {"field": "mm", "type": "quantitative", "scale": {"domain": [0, 120]},
     "axis": {"orient": "right", "values": [0, 20, 40, 60, 80, 100, 120], "ticks": false, "domain": false, "labelPadding": 18, "title": "Rainfall (mm)", "titleAngle": 270, "titlePadding": 18, "grid": false}}}}
 ],
 "resolve": {"scale": {"y": "independent"}}
}
]
}
